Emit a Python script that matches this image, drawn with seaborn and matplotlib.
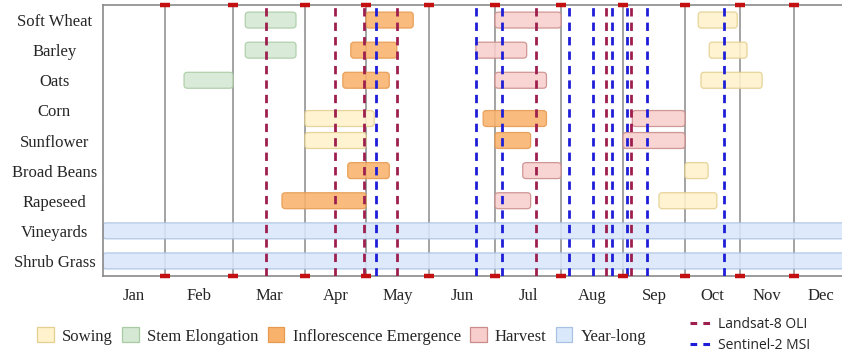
import numpy as np
import matplotlib
matplotlib.use("Agg")
import matplotlib.pyplot as plt
import seaborn as sns
from matplotlib.patches import FancyBboxPatch, Patch
from matplotlib.lines import Line2D

# ---------------------------------------------------------------- data
crops = ["Soft Wheat", "Barley", "Oats", "Corn", "Sunflower",
         "Broad Beans", "Rapeseed", "Vineyards", "Shrub Grass"]
months = ["Jan", "Feb", "Mar", "Apr", "May", "Jun",
          "Jul", "Aug", "Sep", "Oct", "Nov", "Dec"]

# stage windows, in months counted from 1 January: crop -> (start, end)
sowing = {"Soft Wheat": (9.24, 9.95), "Barley": (9.44, 10.13),
          "Oats": (9.29, 10.41), "Corn": (3.0, 4.13),
          "Sunflower": (3.0, 4.0), "Broad Beans": (9.0, 9.42),
          "Rapeseed": (8.58, 9.58)}
stem_elongation = {"Soft Wheat": (2.17, 2.875), "Barley": (2.17, 2.875),
                   "Oats": (1.28, 2.0)}
inflorescence = {"Soft Wheat": (4.0, 4.75), "Barley": (3.75, 4.49),
                 "Oats": (3.62, 4.37), "Corn": (5.82, 6.78),
                 "Sunflower": (6.0, 6.54), "Broad Beans": (3.70, 4.37),
                 "Rapeseed": (2.68, 4.0)}
harvest = {"Soft Wheat": (6.0, 7.0), "Barley": (5.71, 6.48),
           "Oats": (6.0, 6.78), "Corn": (8.15, 9.0),
           "Sunflower": (8.0, 9.0), "Broad Beans": (6.42, 7.0),
           "Rapeseed": (6.0, 6.54)}
year_long = {"Vineyards": (0.0, 12.0), "Shrub Grass": (0.0, 12.0)}

# image acquisition dates (months from 1 January)
landsat_dates = [2.46, 3.49, 3.97, 4.49, 6.62, 7.73, 8.13]
sentinel_dates = [4.16, 5.71, 6.11, 7.13, 7.51, 7.83, 8.06, 8.39, 9.71]

# ---------------------------------------------------------------- style
sns.set_style("white")
plt.rcParams["font.family"] = ["Liberation Serif", "DejaVu Serif"]
plt.rcParams["font.size"] = 12

stage_styles = [
    ("Sowing", sowing, "#FFF2CC", "#E3CF8E"),
    ("Stem Elongation", stem_elongation, "#D5E8D4", "#A9CBA3"),
    ("Inflorescence Emergence", inflorescence, "#F9B26C", "#E69A50"),
    ("Harvest", harvest, "#F8CECC", "#C98C8A"),
    ("Year-long", year_long, "#DAE8FC", "#A9C1E2"),
]
landsat_color = "#9E1F4E"
sentinel_color = "#1E1ED8"
grid_color = "#8A8A8A"
marker_color = "#C41010"

# drawn width of each month column
month_widths = np.array([62, 68, 72, 61, 63, 66, 66, 62, 62, 55, 54, 54], float)
edge_pos = np.concatenate([[0.0], np.cumsum(month_widths)])
knots = np.arange(13.0)


def to_axis(m):
    m = np.asarray(m, float)
    out = np.interp(m, knots, edge_pos)
    out = np.where(m < 0, m * month_widths[0], out)
    out = np.where(m > 12, edge_pos[-1] + (m - 12) * month_widths[-1], out)
    return out


def from_axis(p):
    p = np.asarray(p, float)
    out = np.interp(p, edge_pos, knots)
    out = np.where(p < 0, p / month_widths[0], out)
    out = np.where(p > edge_pos[-1], 12 + (p - edge_pos[-1]) / month_widths[-1], out)
    return out


fig = plt.figure(figsize=(8.42, 3.53), dpi=100)
ax = fig.add_axes([103 / 842, 1 - 276 / 353, 739 / 842, 271 / 353])
ax.set_xscale("function", functions=(to_axis, from_axis))
ax.set_xlim(0, 11 + 48 / 54)
ax.set_ylim(len(crops) - 0.5, -0.5)

# small downward nudge for the Corn row
row_shift = {"Corn": 0.27}
bar_h = 0.53

# month separators
ax.vlines(np.arange(1, 12), -0.5, len(crops) - 0.5, color=grid_color,
          lw=1.1, zorder=1)

# stage bars
for label, stage, fc, ec in stage_styles:
    names = list(stage.keys())
    ypos = np.array([crops.index(n) + row_shift.get(n, 0.0) for n in names])
    starts = np.array([stage[n][0] for n in names])
    ends = np.array([stage[n][1] for n in names])
    bars = ax.barh(ypos, ends - starts, left=starts, height=bar_h)
    for r in bars:
        x0, y0 = r.get_xy()
        rounded = FancyBboxPatch(
            (x0, y0), r.get_width(), r.get_height(),
            boxstyle="round,pad=0,rounding_size=0.05", mutation_aspect=2.0,
            fc=fc, ec=ec, lw=0.9, alpha=0.88, zorder=2)
        r.remove()
        ax.add_patch(rounded)

# acquisition dates
for d in landsat_dates:
    ax.axvline(d, color=landsat_color, lw=2, dashes=(3, 2.2), zorder=3)
for d in sentinel_dates:
    ax.axvline(d, color=sentinel_color, lw=2, dashes=(3, 2.2), zorder=3)

# red month markers on both horizontal spines
for yy in (-0.5, len(crops) - 0.5):
    ax.plot(np.arange(1, 12), [yy] * 11, ls="none", marker="_", ms=7,
            mew=3.2, color=marker_color, clip_on=False, zorder=5)

# axes, ticks and labels
for side in ("top", "bottom", "left"):
    ax.spines[side].set_color(grid_color)
    ax.spines[side].set_linewidth(1.2)
ax.spines["right"].set_visible(False)

ax.set_xticks(np.arange(12) + 0.5, months)
ax.tick_params(axis="x", length=0, pad=9, labelsize=12)

ax.set_yticks(np.arange(-0.5, len(crops)), [""] * (len(crops) + 1))
ax.set_yticks(np.arange(len(crops)), crops, minor=True)
ax.tick_params(axis="y", which="major", length=16.5, width=1.1,
               color="#707070")
ax.tick_params(axis="y", which="minor", length=0, pad=35, labelsize=12)
for t in ax.get_yticklabels(minor=True):
    t.set_ha("center")
ax.grid(False)

# legends
stage_handles = [Patch(fc=fc, ec=ec, lw=0.9, label=label)
                 for label, _, fc, ec in stage_styles]
fig.legend(handles=stage_handles, loc="center left",
           bbox_to_anchor=(37 / 842, 17 / 353), ncol=5, frameon=False,
           fontsize=12, handlelength=1.0, handleheight=1.0,
           handletextpad=0.5, columnspacing=0.55, borderpad=0,
           borderaxespad=0)

line_handles = [
    Line2D([0], [0], color=landsat_color, lw=2.2, dashes=(2.2, 2.0),
           label="Landsat-8 OLI"),
    Line2D([0], [0], color=sentinel_color, lw=2.2, dashes=(2.2, 2.0),
           label="Sentinel-2 MSI"),
]
fig.legend(handles=line_handles, loc="center left",
           bbox_to_anchor=(690 / 842, 18 / 353), ncol=1, frameon=False,
           prop={"family": ["Open Sans", "DejaVu Sans"], "size": 10},
           handlelength=1.43, handletextpad=0.55, labelspacing=0.45,
           borderpad=0, borderaxespad=0)

fig.savefig("out.png", dpi=100)
